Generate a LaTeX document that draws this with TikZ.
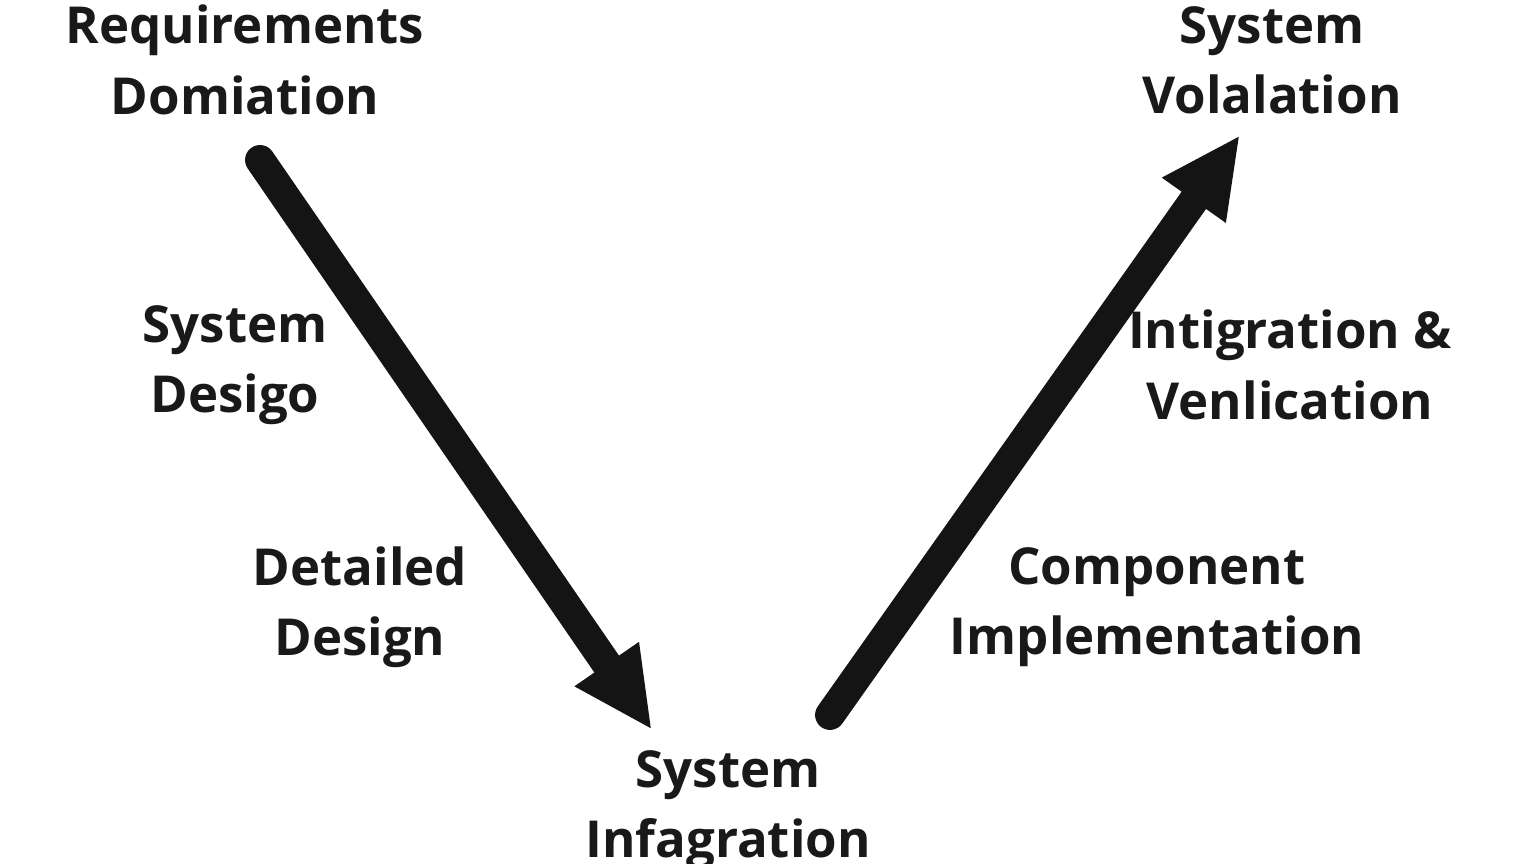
\documentclass[tikz,border=0pt]{standalone}
\usepackage{fontspec}
\setmainfont{Open Sans}
\usetikzlibrary{arrows.meta, positioning}

\begin{document}
\begin{tikzpicture}[thick, >=Triangle]

	% Define styles
	\tikzstyle{phase} = [align=center, font=\fontsize{14.5}{20}\selectfont\bfseries, text=black!90]
	\tikzstyle{leg} = [line width=8.5pt, line cap=round, draw=black!92, -{Triangle[length=0.8cm, width=0.72cm]}]

	\useasboundingbox (0,0) rectangle (15.36,8.64);

	% Nodes
	\node[phase] (req) at (2.45,8.04) {Requirements\\Domiation};
	\node[phase] (sysdes) at (2.35,4.99) {System\\Desigo};
	\node[phase] (detdes) at (3.6,2.57) {Detailed\\Design};
	\node[phase] (integ) at (7.28,0.54) {System\\Infagration};
	\node[phase] (comp) at (11.57,2.57) {Component\\Implementation};
	\node[phase] (intver) at (12.9,4.99) {Intigration \&\\Venlication};
	\node[phase] (valid) at (12.72,8.04) {System\\Volalation};

	% Arrow ends
	\coordinate (downA) at (2.6,7.04);
	\coordinate (downB) at (6.52,1.34);
	\coordinate (upA) at (8.3,1.49);
	\coordinate (upB) at (12.4,7.29);

	% Arrows
	\draw[leg] (downA) -- (downB);
	\draw[leg] (upA) -- (upB);

\end{tikzpicture}
\end{document}
